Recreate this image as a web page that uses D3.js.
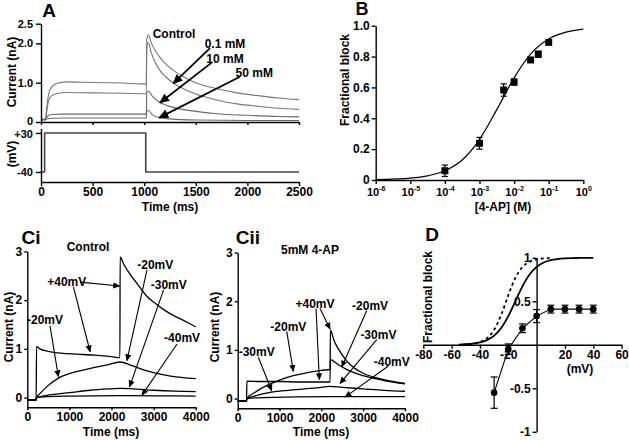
<!DOCTYPE html>
<html><head><meta charset="utf-8">
<script src="https://cdn.jsdelivr.net/npm/d3@7"></script>
<style>
body{margin:0;background:#fff}
svg{display:block}
text{font-family:"Liberation Sans",Arial,sans-serif;font-weight:bold;fill:#000}
</style></head><body>
<script>
// ---------- Panel A data (time ms, current nA) ----------
const aControl = [[0,0.07],[40,0.07],[50,0.2],[60,0.45],[75,0.72],[100,0.88],[150,0.98],[250,1.02],[400,1.01],[600,1.0],[800,0.99],[1000,0.97],[1020,0.97],[1025,2.1],[1040,2.21],[1070,2.0],[1100,1.85],[1150,1.65],[1200,1.5],[1300,1.28],[1400,1.12],[1500,1.0],[1700,0.85],[1900,0.74],[2100,0.67],[2300,0.61],[2500,0.57]];
const a01mM = [[0,0.07],[40,0.07],[50,0.15],[60,0.35],[75,0.55],[100,0.66],[150,0.72],[250,0.75],[500,0.74],[800,0.73],[1000,0.72],[1020,0.72],[1025,1.9],[1040,2.02],[1070,1.75],[1100,1.55],[1150,1.32],[1200,1.17],[1300,0.96],[1400,0.82],[1500,0.71],[1700,0.56],[1900,0.46],[2100,0.4],[2300,0.35],[2500,0.32]];
const a10mM = [[0,0.06],[40,0.06],[50,0.1],[70,0.16],[100,0.19],[200,0.2],[600,0.2],[1000,0.2],[1020,0.2],[1025,0.72],[1040,0.79],[1080,0.65],[1150,0.5],[1200,0.44],[1300,0.36],[1500,0.27],[1700,0.21],[2000,0.17],[2300,0.14],[2500,0.13]];
const a50mM = [[0,0.05],[40,0.05],[50,0.07],[80,0.09],[200,0.1],[1000,0.1],[1020,0.1],[1025,0.27],[1040,0.3],[1080,0.18],[1150,0.11],[1250,0.08],[1500,0.05],[2000,0.04],[2500,0.04]];
const aVoltage = [[0,-40],[35,-40],[35,30],[1015,30],[1015,-40],[2500,-40]];
const aCurrentTicks = [0,1,2,2.5];
const aVoltTicks = [30,-40];
const aTimeTicks = [0,500,1000,1500,2000,2500];
const aLabels = [{t:"Control",x:1289,y:2.24},{t:"0.1 mM",x:1783,y:1.98},{t:"10 mM",x:1783,y:1.6},{t:"50 mM",x:2066,y:1.24}];
const aArrows = [[1638,1.88,1282,0.98],[1654,1.51,1153,0.49],[1928,1.15,1146,0.11]];

// ---------- Panel B data ----------
const bConc = [1e-4,1e-3,5e-3,1e-2,3e-2,5e-2,1e-1];
const bBlock = [0.06,0.238,0.583,0.635,0.778,0.815,0.892];
const bErr = [0.037,0.038,0.04,0.02,0.012,0.02,0.01];
const bFitLogConc = [-6,-5.5,-5,-4.5,-4,-3.5,-3,-2.5,-2,-1.5,-1,-0.5,0];
const bFitBlock = [0.003,0.006,0.012,0.027,0.06,0.13,0.262,0.456,0.662,0.822,0.914,0.958,0.978];
const bYTicks = [0,0.2,0.4,0.6,0.8,1.0];
const bXTicks = [-6,-5,-4,-3,-2,-1,0];

// ---------- Panel Ci data (Control) ----------
const ciP40 = [[0,-0.05],[210,-0.05],[220,1.05],[300,1.0],[500,0.95],[800,0.91],[1200,0.89],[1600,0.87],[2000,0.84],[2200,0.82],[2205,2.88],[2300,2.72],[2450,2.52],[2600,2.35],[2850,2.07],[3000,1.96],[3250,1.8],[3500,1.67],[3650,1.61],[3850,1.52],[4000,1.45]];
const ciM20 = [[0,-0.05],[210,-0.05],[220,0],[300,0.08],[500,0.25],[740,0.4],[1000,0.49],[1300,0.56],[1600,0.62],[1900,0.67],[2200,0.73],[2500,0.65],[2800,0.56],[3100,0.49],[3400,0.44],[3700,0.41],[4000,0.39]];
const ciM30 = [[0,-0.05],[210,-0.05],[220,0],[500,0.05],[1000,0.1],[1500,0.15],[2000,0.18],[2200,0.19],[2500,0.18],[3000,0.15],[3500,0.13],[4000,0.12]];
const ciM40 = [[0,-0.05],[210,-0.05],[220,0],[500,0.02],[1000,0.03],[2200,0.04],[3000,0.035],[4000,0.03]];
const ciLabels = [{t:"+40mV",x:938,y:2.38},{t:"-20mV",x:421,y:1.59},{t:"-20mV",x:3040,y:2.72},{t:"-30mV",x:3360,y:2.31},{t:"-40mV",x:3676,y:1.22}];
const ciArrows = [[1255,2.37,2190,2.29],[1095,2.27,1493,0.94],[540,1.47,738,0.43],[2843,2.62,2367,0.76],[3238,2.21,2429,0.22],[3557,1.10,2724,0.05]];

// ---------- Panel Cii data (5mM 4-AP) ----------
const ciiP40 = [[0,-0.05],[210,-0.05],[220,0.36],[500,0.35],[1000,0.35],[1500,0.34],[2000,0.34],[2210,0.34],[2215,1.41],[2300,1.2],[2400,1.03],[2600,0.78],[2800,0.62],[3000,0.52],[3300,0.43],[3600,0.37],[4000,0.31]];
const ciiM20 = [[0,-0.05],[210,-0.05],[220,0],[400,0.12],[700,0.27],[1000,0.38],[1330,0.47],[1700,0.54],[2000,0.58],[2210,0.6],[2215,0.8],[2400,0.7],[2600,0.6],[3000,0.47],[3500,0.37],[4000,0.3]];
const ciiM30 = [[0,-0.05],[210,-0.05],[220,0],[400,0.05],[800,0.13],[1200,0.17],[1600,0.2],[2000,0.23],[2200,0.25],[2500,0.23],[3000,0.2],[3500,0.17],[4000,0.15]];
const ciiM40 = [[0,-0.05],[210,-0.05],[220,0],[600,0.02],[2200,0.04],[4000,0.04]];
const ciiLabels = [{t:"+40mV",x:1849,y:1.94},{t:"-20mV",x:3165,y:1.90},{t:"-30mV",x:3364,y:1.31},{t:"-40mV",x:3684,y:0.76},{t:"-20mV",x:1211,y:1.48},{t:"-30mV",x:455,y:0.95}];
const ciiArrows = [[1873,1.85,1952,0.39],[1969,1.85,2208,1.43],[3086,1.81,2488,0.65],[3325,1.21,2447,0.31],[3603,0.67,2567,0.03],[1172,1.38,1330,0.56],[493,0.85,813,0.16]];
const cTimeTicks = [0,1000,2000,3000,4000];
const cCurrentTicks = [0,1,2,3];

// ---------- Panel D data ----------
const dVolt = [-30,-20,-10,0,10,20,30,40];
const dBlock = [-0.55,-0.05,0.19,0.33,0.41,0.41,0.41,0.41];
const dErr = [0.18,0.06,0.05,0.075,0.045,0.045,0.045,0.045];
const dFitVolt = [-55,-50,-45,-40,-35,-30,-25,-20,-15,-10,-5,0,5,10,15,20,25,30,35,40];
const dFitSolid = [0.003,0.007,0.014,0.027,0.054,0.105,0.193,0.329,0.5,0.671,0.807,0.895,0.946,0.973,0.986,0.993,0.997,0.998,0.999,1.0];
const dDashVolt = [-52,-50,-45,-40,-35,-30,-25,-20,-15,-10,-5,0,5,10];
const dDashBlock = [0.003,0.005,0.013,0.031,0.076,0.172,0.344,0.569,0.769,0.894,0.955,0.982,0.993,0.997];
const dXTicks = [-80,-60,-40,-20,20,40,60];
const dYTicks = [-1,-0.5,0.5,1];

// ================= drawing =================
const W=629,H=440;
const svg=d3.select("body").append("svg").attr("width",W).attr("height",H);
svg.append("rect").attr("width",W).attr("height",H).attr("fill","#fff");
const defs=svg.append("defs");
function marker(id,size){
  defs.append("marker").attr("id",id).attr("viewBox","0 0 10 10").attr("refX",9).attr("refY",5)
   .attr("markerWidth",size).attr("markerHeight",size).attr("markerUnits","userSpaceOnUse").attr("orient","auto")
   .append("path").attr("d","M0,0.5 L10,5 L0,9.5 Z").attr("fill","#000");
}
marker("ahA",10); marker("ahC",7);
const fmtInt = d=>String(d);

function styleAxis(g,fs){
  g.selectAll(".domain").attr("stroke","#000").attr("stroke-width",1.4);
  g.selectAll(".tick line").attr("stroke","#000").attr("stroke-width",1.4);
  g.selectAll(".tick text").attr("font-size",fs||12).attr("font-family","Liberation Sans, Arial, sans-serif").attr("font-weight","bold").attr("fill","#000");
}
function txt(x,y,s,opt){
  opt=opt||{};
  const t=svg.append("text").attr("x",x).attr("y",y).text(s).attr("font-size",opt.fs||12)
    .attr("text-anchor",opt.anchor||"middle").attr("dominant-baseline",opt.base||"central");
  if(opt.rot) t.attr("transform",`rotate(-90,${x},${y})`);
  return t;
}
function drawLine(data,x,y,color,w,curve){
  svg.append("path").datum(data).attr("fill","none").attr("stroke",color).attr("stroke-width",w)
    .attr("stroke-linejoin","round")
    .attr("d",d3.line().x(d=>x(d[0])).y(d=>y(d[1])).curve(curve||d3.curveMonotoneX));
}
function drawArrows(arr,x,y,w,mk){
  svg.selectAll(null).data(arr).enter().append("line")
    .attr("x1",d=>x(d[0])).attr("y1",d=>y(d[1])).attr("x2",d=>x(d[2])).attr("y2",d=>y(d[3]))
    .attr("stroke","#000").attr("stroke-width",w).attr("marker-end",`url(#${mk})`);
}
function drawLabels(arr,x,y,fs){
  arr.forEach(l=>txt(x(l.x),y(l.y),l.t,{fs:fs}));
}

// ---------- Panel A ----------
const xA=d3.scaleLinear().domain([0,2500]).range([41,299]);
const yA=d3.scaleLinear().domain([0,2.5]).range([122,23.7]);
const yV=d3.scaleLinear().domain([-58,38]).range([182,128.5]);
[aControl,a01mM,a10mM,a50mM].forEach((s,i)=>drawLine(s,xA,yA,i<2?"#777":"#6a6a6a",1.1));
drawLine(aVoltage,xA,yV,"#444",1.6,d3.curveLinear);
let g=svg.append("g").attr("transform","translate(0,122)").call(d3.axisBottom(xA).tickValues(aTimeTicks).tickFormat("").tickSize(3).tickSizeOuter(0));
styleAxis(g);
g=svg.append("g").attr("transform","translate(41,0)").call(d3.axisLeft(yA).tickValues(aCurrentTicks).tickFormat(d=>d===0?"0":d.toFixed(1)).tickSize(5).tickPadding(3).tickSizeOuter(0));
styleAxis(g,11);
g.selectAll(".tick text").filter(d=>d===0).attr("dy","0.2em");
g=svg.append("g").attr("transform","translate(0,182)").call(d3.axisBottom(xA).tickValues(aTimeTicks).tickFormat(fmtInt).tickSize(4).tickPadding(1).tickSizeOuter(0));
styleAxis(g);
g=svg.append("g").attr("transform","translate(41,0)").call(d3.axisLeft(yV).tickValues(aVoltTicks).tickFormat(d=>d>0?"+"+d:String(d)).tickSize(5).tickPadding(3).tickSizeOuter(0));
styleAxis(g,11);
g.selectAll(".tick text").filter(d=>d===30).attr("dy","0.42em");
drawLabels(aLabels,xA,yA,12);
drawArrows(aArrows,xA,yA,1.8,"ahA");
txt(12,72,"Current (nA)",{rot:true});
txt(12,154,"(mV)",{rot:true});
txt(170,207,"Time (ms)");
txt(49,10,"A",{fs:19});

// ---------- Panel B ----------
const xB=d3.scaleLog().domain([1e-6,1]).range([375.7,583.3]);
const yB=d3.scaleLinear().domain([0,1]).range([180,25.7]);
g=svg.append("g").attr("transform","translate(0,180)").call(d3.axisBottom(xB).tickValues(bXTicks.map(e=>Math.pow(10,e))).tickFormat("").tickSize(4).tickSizeOuter(0));
styleAxis(g);
g.selectAll(".tick").each(function(d){
  const e=Math.round(Math.log10(d));
  const t=d3.select(this).append("text").attr("y",16).attr("text-anchor","middle").attr("font-size",11).attr("fill","#000");
  t.append("tspan").text("10");
  t.append("tspan").attr("dy",-5).attr("font-size",7).text(String(e));
});
g=svg.append("g").attr("transform","translate(375.7,0)").call(d3.axisLeft(yB).tickValues(bYTicks).tickFormat(d=>d===0?"0":d.toFixed(1)).tickSize(4).tickPadding(2).tickSizeOuter(0));
styleAxis(g);
drawLine(bFitLogConc.map((e,i)=>[Math.pow(10,e),bFitBlock[i]]),xB,yB,"#000",1.2);
bConc.forEach((c,i)=>{
  const cx=xB(c);
  svg.append("line").attr("x1",cx).attr("x2",cx).attr("y1",yB(bBlock[i]-bErr[i])).attr("y2",yB(bBlock[i]+bErr[i])).attr("stroke","#000").attr("stroke-width",1.2);
  [bBlock[i]-bErr[i],bBlock[i]+bErr[i]].forEach(v=>svg.append("line").attr("x1",cx-3).attr("x2",cx+3).attr("y1",yB(v)).attr("y2",yB(v)).attr("stroke","#000").attr("stroke-width",1.2));
  svg.append("rect").attr("x",cx-3.5).attr("y",yB(bBlock[i])-3.5).attr("width",7).attr("height",7).attr("fill","#000");
});
txt(345,80,"Fractional block",{rot:true});
txt(503,207,"[4-AP] (M)");
txt(362,9,"B",{fs:18});

// ---------- Panel Ci ----------
const xCi=d3.scaleLinear().domain([0,4000]).range([27.3,195.7]);
const yCi=d3.scaleLinear().domain([-0.2,3]).range([407.3,251.4]);
[ciM40,ciM30,ciM20,ciP40].forEach(s=>drawLine(s,xCi,yCi,"#000",1.3));
g=svg.append("g").attr("transform","translate(0,407.3)").call(d3.axisBottom(xCi).tickValues(cTimeTicks).tickFormat(fmtInt).tickSize(3).tickPadding(2).tickSizeOuter(0));
styleAxis(g);
g=svg.append("g").attr("transform","translate(27.3,0)").call(d3.axisLeft(yCi).tickValues(cCurrentTicks).tickFormat(fmtInt).tickSize(3).tickPadding(2).tickSizeOuter(0));
styleAxis(g);
drawLabels(ciLabels,xCi,yCi,12);
drawArrows(ciArrows,xCi,yCi,1.1,"ahC");
txt(9,327,"Current (nA)",{rot:true});
txt(111,432,"Time (ms)");
txt(88,247,"Control");
txt(31,237,"Ci",{fs:19});

// ---------- Panel Cii ----------
const xCii=d3.scaleLinear().domain([0,4000]).range([237.7,405]);
const yCii=d3.scaleLinear().domain([-0.2,3]).range([408.3,252.5]);
[ciiM40,ciiM30,ciiM20,ciiP40].forEach(s=>drawLine(s,xCii,yCii,"#000",1.3));
g=svg.append("g").attr("transform","translate(0,408.3)").call(d3.axisBottom(xCii).tickValues(cTimeTicks).tickFormat(fmtInt).tickSize(3).tickPadding(2).tickSizeOuter(0));
styleAxis(g);
g=svg.append("g").attr("transform","translate(237.7,0)").call(d3.axisLeft(yCii).tickValues(cCurrentTicks).tickFormat(fmtInt).tickSize(3).tickPadding(2).tickSizeOuter(0));
styleAxis(g);
drawLabels(ciiLabels,xCii,yCii,12);
drawArrows(ciiArrows,xCii,yCii,1.1,"ahC");
txt(215,327,"Current (nA)",{rot:true});
txt(321,432,"Time (ms)");
txt(310,250,"5mM 4-AP");
txt(248,237,"Cii",{fs:19});

// ---------- Panel D ----------
const xD=d3.scaleLinear().domain([-80,60]).range([423.3,621.6]);
const yD=d3.scaleLinear().domain([-1,1]).range([431.8,257.8]);
g=svg.append("g").attr("transform",`translate(0,${yD(0)})`).call(d3.axisBottom(xD).tickValues(dXTicks).tickFormat(fmtInt).tickSize(4).tickPadding(2).tickSizeOuter(0));
styleAxis(g);
g=svg.append("g").attr("transform",`translate(${xD(0)},0)`).call(d3.axisLeft(yD).tickValues(dYTicks).tickFormat(fmtInt).tickSize(4).tickPadding(2).tickSizeOuter(0));
styleAxis(g);
drawLine(dFitVolt.map((v,i)=>[v,dFitSolid[i]]),xD,yD,"#000",1.8);
svg.append("path").datum(dDashVolt.map((v,i)=>[v,dDashBlock[i]])).attr("fill","none").attr("stroke","#000").attr("stroke-width",1.8)
  .attr("stroke-dasharray","3,3").attr("d",d3.line().x(d=>xD(d[0])).y(d=>yD(d[1])).curve(d3.curveMonotoneX));
drawLine(dVolt.map((v,i)=>[v,dBlock[i]]),xD,yD,"#000",1.1,d3.curveLinear);
dVolt.forEach((v,i)=>{
  const cx=xD(v);
  svg.append("line").attr("x1",cx).attr("x2",cx).attr("y1",yD(dBlock[i]-dErr[i])).attr("y2",yD(dBlock[i]+dErr[i])).attr("stroke","#000").attr("stroke-width",1.2);
  [dBlock[i]-dErr[i],dBlock[i]+dErr[i]].forEach(e=>svg.append("line").attr("x1",cx-3.5).attr("x2",cx+3.5).attr("y1",yD(e)).attr("y2",yD(e)).attr("stroke","#000").attr("stroke-width",1.2));
  svg.append("circle").attr("cx",cx).attr("cy",yD(dBlock[i])).attr("r",3.3).attr("fill","#000");
});
txt(428,297,"Fractional block",{rot:true});
txt(580,369,"(mV)");
txt(432,234,"D",{fs:19});
</script></body></html>
